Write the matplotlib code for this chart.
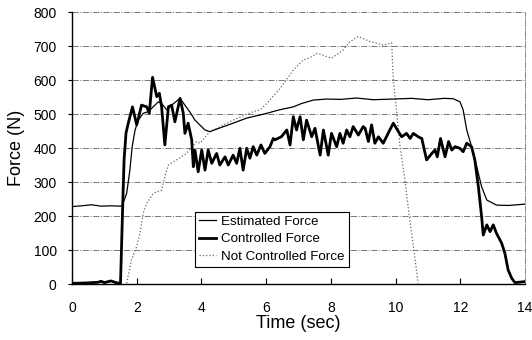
import matplotlib
matplotlib.use("Agg")
import matplotlib.pyplot as plt

# Estimated Force (thin line)
t_est = [0.05, 0.3, 0.6, 0.9, 1.2, 1.5, 1.55, 1.69, 1.79, 1.86, 1.95, 2.05, 2.2, 2.36,
         2.51, 2.67, 2.77, 2.93, 3.08, 3.34, 3.49, 3.65, 3.80, 4.11, 4.26, 4.6,
         4.98, 5.4, 5.81, 6.02, 6.4, 6.84, 7.1, 7.46, 7.87, 8.3, 8.8, 9.3, 9.93,
         10.5, 11.0, 11.5, 11.78, 11.99, 12.09, 12.2, 12.35, 12.51, 12.66, 12.82,
         13.12, 13.5, 14.0]
f_est = [228, 230, 233, 229, 230, 229, 230, 267, 335, 404, 453, 482, 502, 507,
         521, 536, 531, 512, 526, 546, 526, 505, 482, 453, 448, 460,
         473, 488, 497, 502, 512, 521, 531, 541, 544, 543, 547, 542, 544,
         546, 542, 546, 545, 536, 512, 453, 404, 345, 286, 247,
         232, 231, 235]

# Controlled Force (thick line)
t_ctl = [0.05, 0.4, 0.8, 0.9, 1.0, 1.2, 1.4, 1.48, 1.50, 1.57, 1.61, 1.67, 1.74, 1.87,
         2.0, 2.15, 2.31, 2.39, 2.49, 2.62, 2.70, 2.77, 2.87, 2.98, 3.08, 3.18,
         3.34, 3.44, 3.49, 3.59, 3.70, 3.75, 3.80, 3.90, 4.01, 4.11, 4.21, 4.32,
         4.47, 4.57, 4.73, 4.83, 4.98, 5.09, 5.19, 5.29, 5.40, 5.50, 5.60, 5.71,
         5.84, 5.96, 6.12, 6.22, 6.27, 6.47, 6.64, 6.74, 6.84, 6.94, 7.05, 7.15,
         7.25, 7.41, 7.51, 7.67, 7.77, 7.92, 8.02, 8.18, 8.28, 8.38, 8.49, 8.59,
         8.69, 8.85, 9.0, 9.06, 9.16, 9.26, 9.36, 9.47, 9.62, 9.77, 9.93, 10.09,
         10.19, 10.34, 10.45, 10.55, 10.70, 10.81, 10.96, 11.12, 11.22, 11.29,
         11.39, 11.53, 11.64, 11.74, 11.84, 11.99, 12.09, 12.20, 12.35,
         12.45, 12.56, 12.66, 12.71, 12.82, 12.92, 13.02, 13.12, 13.28, 13.38,
         13.48, 13.59, 13.69, 14.0]
f_ctl = [2, 3, 5, 8, 4, 9, 3, 3, 3, 238, 365, 444, 473, 521,
         468, 526, 521, 502, 608, 551, 561, 521, 409, 521, 526, 477,
         546, 502, 443, 473, 424, 345, 394, 330, 394, 335, 394, 355,
         384, 350, 374, 350, 379, 355, 399, 335, 399, 370, 404, 379,
         409, 384, 404, 428, 424, 433, 453, 409, 492, 453, 492, 424,
         482, 433, 458, 379, 453, 379, 443, 404, 443, 414, 453, 433,
         463, 438, 463, 458, 419, 468, 414, 433, 414, 443, 473, 448,
         433, 443, 428, 443, 433, 428, 365, 384, 394, 374,
         428, 374, 419, 394, 404, 399, 389, 414, 404,
         365, 286, 198, 144, 174, 154, 174, 149, 120, 90,
         41, 17, 4, 7]

# Not Controlled Force (dotted line)
t_nc = [1.69, 1.84, 2.0, 2.10, 2.20, 2.31, 2.51, 2.77, 2.87, 2.98, 3.23, 3.54,
        3.85, 3.96, 4.26, 4.37, 4.98, 5.60, 5.81, 6.02, 6.43, 6.84, 7.15, 7.36,
        7.56, 7.66, 8.02, 8.38, 8.59, 8.85, 9.21, 9.62, 9.83, 9.88, 9.93, 10.03,
        10.14, 10.29, 10.40, 10.55, 10.70]
f_nc = [2, 71, 110, 149, 208, 237, 267, 276, 316, 350, 365, 384,
        419, 414, 448, 453, 482, 507, 512, 531, 575, 629, 659, 666,
        678, 676, 664, 688, 713, 728, 713, 703, 708, 710, 600, 512,
        404, 306, 218, 110, 2]

x_ticks = [0, 2, 4, 6, 8, 10, 12, 14]
y_ticks = [0, 100, 200, 300, 400, 500, 600, 700, 800]

plt.rcParams['font.family'] = ['Liberation Sans', 'DejaVu Sans']

fig = plt.figure(figsize=(5.32, 3.40), dpi=100)
ax = fig.add_axes([0.1353, 0.1647, 0.8515, 0.80])

# grid horizontal tracejado
for yv in y_ticks[1:]:
    ax.axhline(yv, color='#777777', linestyle='-.', linewidth=0.7, zorder=0)

ax.plot(t_est, f_est, color='black', linewidth=0.9, label='Estimated Force', zorder=3)
ax.plot(t_ctl, f_ctl, color='black', linewidth=2.0, label='Controlled Force', zorder=4)
ax.plot(t_nc, f_nc, color='#666666', linestyle=':', linewidth=0.9, label='Not Controlled Force', zorder=2)

ax.set_xlim(0, 14)
ax.set_ylim(0, 800)
ax.set_xticks(x_ticks)
ax.set_yticks(y_ticks)
ax.tick_params(axis='x', direction='in', length=4, labelsize=10, pad=12)
ax.tick_params(axis='y', direction='out', length=3, labelsize=10, pad=8)

ax.spines['top'].set_visible(False)
ax.spines['right'].set_linestyle('-.')
ax.spines['right'].set_color('#888888')
ax.spines['right'].set_linewidth(0.7)
ax.spines['left'].set_linewidth(1.0)
ax.spines['bottom'].set_linewidth(1.0)

ax.set_xlabel('Time (sec)', fontsize=13, labelpad=0)
ax.set_ylabel('Force (N)', fontsize=13, labelpad=6)

leg = ax.legend(loc='lower left', bbox_to_anchor=(0.271, 0.063), fontsize=9.6,
                frameon=True, fancybox=False, edgecolor='black', framealpha=1,
                handlelength=1.3, handletextpad=0.4, borderpad=0.3, labelspacing=0.38,
                borderaxespad=0)
leg.get_frame().set_linewidth(0.8)

fig.savefig('out.png', dpi=100, facecolor='white')
